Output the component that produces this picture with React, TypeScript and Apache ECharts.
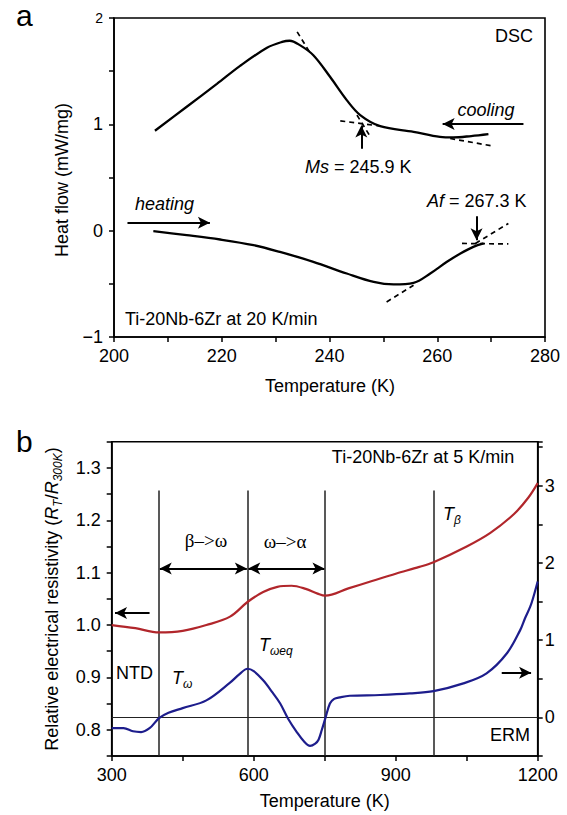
import React, { useEffect, useRef } from 'react';
import * as echarts from 'echarts';

// ---- Panel a: DSC ----
const coolingT = [207.6, 213.5, 219.1, 223.4, 228.4, 231.2, 232.6, 234.5, 237.0, 240.1, 243.2, 245.7, 249.4, 255.6, 260.5, 263.0, 266.3, 269.5];
const coolingHF = [0.94, 1.165, 1.38, 1.55, 1.72, 1.775, 1.786, 1.745, 1.65, 1.447, 1.228, 1.087, 0.983, 0.93, 0.882, 0.877, 0.89, 0.908];
const heatingT = [207.3, 213.5, 219.7, 225.9, 230.8, 237.0, 243.2, 248.2, 251.9, 255.6, 258.7, 261.8, 264.3, 266.7, 268.6];
const heatingHF = [-0.005, -0.042, -0.083, -0.136, -0.2, -0.293, -0.403, -0.482, -0.506, -0.491, -0.403, -0.293, -0.215, -0.152, -0.12];
const tangentsA = [
  [[234.0, 1.87], [236.3, 1.68]],
  [[242.0, 1.033], [250.0, 0.98]],
  [[245.1, 1.087], [247.6, 0.882]],
  [[262.4, 0.867], [270.4, 0.795]],
  [[264.6, -0.12], [273.2, -0.125]],
  [[267.1, -0.12], [273.2, 0.068]],
  [[250.6, -0.67], [255.6, -0.513]],
];
const msValue = 245.9;
const afValue = 267.3;

// ---- Panel b: resistivity ----
const resT = [300, 350, 400, 450, 500, 550, 587, 620, 650, 680, 710, 735, 751, 800, 850, 900, 950, 980, 1050, 1100, 1150, 1180, 1200];
const resLeft = [1.0, 0.994, 0.986, 0.989, 1.0, 1.016, 1.044, 1.063, 1.073, 1.075, 1.069, 1.06, 1.056, 1.07, 1.084, 1.098, 1.111, 1.12, 1.15, 1.176, 1.212, 1.243, 1.271];
const ermT = [300, 325, 345, 362, 380, 400, 420, 450, 500, 550, 570, 587, 600, 620, 640, 656, 673, 691, 706, 719, 730, 737, 744, 751, 761, 770, 782, 803, 867, 930, 980, 1043, 1092, 1135, 1163, 1173, 1184, 1190, 1200];
const ermVal = [-0.14, -0.14, -0.18, -0.19, -0.14, -0.01, 0.06, 0.12, 0.22, 0.45, 0.56, 0.63, 0.6, 0.48, 0.32, 0.18, -0.02, -0.19, -0.31, -0.37, -0.34, -0.29, -0.16, -0.02, 0.18, 0.24, 0.26, 0.28, 0.29, 0.31, 0.34, 0.44, 0.57, 0.83, 1.13, 1.28, 1.43, 1.54, 1.76];
const transitionT = [400, 587, 751, 980];
const transitionTop = 1.257;

const FONT = "'Liberation Sans', Arial, Helvetica, sans-serif";
const SERIF = "'Liberation Serif', 'Times New Roman', serif";
const FS = 18;

function zip(xs: number[], ys: number[]) {
  return xs.map((x, i) => [x, ys[i]]);
}

function arrowLine(p1: number[], p2: number[], both = false) {
  return [
    { coord: p1, symbol: both ? 'arrow' : 'none' },
    { coord: p2, symbol: 'arrow' },
  ];
}

function txt(x: number, y: number, text: string, extra: any = {}) {
  const { align = 'left', rich, rotation, fontSize = FS, fontStyle, fontFamily = FONT } = extra;
  return {
    type: 'text',
    x,
    y,
    rotation: rotation || 0,
    silent: true,
    style: {
      text,
      fill: '#000',
      fontSize,
      fontFamily,
      fontStyle: fontStyle || 'normal',
      align,
      textAlign: align,
      verticalAlign: 'middle',
      textVerticalAlign: 'middle',
      rich: rich || {},
    },
  };
}

const italicRich = {
  i: { fontStyle: 'italic', fontSize: FS, fontFamily: FONT, fill: '#000', color: '#000' },
};
const subRich = {
  T: { fontStyle: 'italic', fontSize: FS, fontFamily: FONT, color: '#000', lineHeight: 24, verticalAlign: 'middle' },
  s: { fontStyle: 'italic', fontSize: 12, fontFamily: FONT, color: '#000', lineHeight: 12, verticalAlign: 'bottom' },
  n: { fontSize: FS, fontFamily: FONT, color: '#000', lineHeight: 24, verticalAlign: 'middle' },
};

const axisCommon = {
  axisLine: { onZero: false, lineStyle: { color: '#000', width: 1.6 } },
  axisTick: { inside: false, length: 5, lineStyle: { color: '#000', width: 1.5 } },
  splitLine: { show: false },
};

export default function App() {
  const ref = useRef<HTMLDivElement>(null);
  useEffect(() => {
    document.body.style.margin = '0';
    const chart = echarts.init(ref.current!, null, { renderer: 'svg' });
    const option: any = {
      animation: false,
      backgroundColor: '#fff',
      textStyle: { fontFamily: FONT },
      grid: [
        { left: 114, top: 18, width: 431, height: 319, show: true, borderColor: '#000', borderWidth: 1.6, backgroundColor: 'transparent' },
        { left: 111.7, top: 441.7, width: 426, height: 314.3, show: true, borderColor: '#000', borderWidth: 1.6, backgroundColor: 'transparent' },
      ],
      xAxis: [
        {
          ...axisCommon,
          gridIndex: 0, type: 'value', min: 200, max: 280, interval: 10,
          axisLabel: { color: '#000', fontSize: FS, fontFamily: FONT, margin: 10, formatter: (v: number) => (v % 20 === 0 ? String(v) : '') },
        },
        {
          ...axisCommon,
          gridIndex: 1, type: 'value', min: 300, max: 1200, interval: 150,
          axisLabel: { color: '#000', fontSize: FS, fontFamily: FONT, margin: 10, formatter: (v: number) => (v % 300 === 0 ? String(v) : '') },
        },
      ],
      yAxis: [
        {
          ...axisCommon,
          gridIndex: 0, type: 'value', min: -1, max: 2, interval: 0.5,
          axisLabel: {
            color: '#000', fontSize: FS, fontFamily: FONT, margin: 11,
            formatter: (v: number) => {
              if (Math.abs(v - Math.round(v)) > 1e-6) return '';
              const r = Math.round(v);
              if (r === 2) return '{s|2}';
              return r < 0 ? '\u2212' + Math.abs(r) : String(r);
            },
            rich: { s: { fontSize: 14, fontFamily: FONT, color: '#000' } },
          },
        },
        {
          ...axisCommon,
          gridIndex: 1, type: 'value', min: 0.75, max: 1.35, interval: 0.05,
          axisLabel: {
            color: '#000', fontSize: FS, fontFamily: FONT, margin: 11,
            formatter: (v: number) => (Math.abs(v * 10 - Math.round(v * 10)) < 1e-6 ? v.toFixed(1) : ''),
          },
        },
        {
          ...axisCommon,
          gridIndex: 1, type: 'value', position: 'right', min: -0.5, max: 3.57, interval: 0.5,
          axisLabel: {
            color: '#000', fontSize: FS, fontFamily: FONT, margin: 7,
            formatter: (v: number) => (Math.abs(v - Math.round(v)) < 1e-6 && v >= 0 && v <= 3 ? String(Math.round(v)) : ''),
          },
        },
      ],
      series: [
        {
          type: 'line', xAxisIndex: 0, yAxisIndex: 0, data: zip(coolingT, coolingHF), smooth: 0.35,
          showSymbol: false, symbol: 'none', lineStyle: { color: '#000', width: 2.3 }, silent: true,
          markLine: {
            silent: true, symbolSize: [9, 12], label: { show: false },
            lineStyle: { color: '#000', width: 2, type: 'solid' },
            data: [
              arrowLine([276.0, 1.004], [261.0, 1.004]),
              arrowLine([202.5, 0.075], [217.8, 0.075]),
              arrowLine([msValue, 0.77], [msValue, 0.99]),
              arrowLine([afValue, 0.135], [afValue, -0.09]),
            ],
          },
        },
        {
          type: 'line', xAxisIndex: 0, yAxisIndex: 0, data: zip(heatingT, heatingHF), smooth: 0.35,
          showSymbol: false, symbol: 'none', lineStyle: { color: '#000', width: 2.3 }, silent: true,
        },
        ...tangentsA.map((seg) => ({
          type: 'line', xAxisIndex: 0, yAxisIndex: 0, data: seg, showSymbol: false, symbol: 'none', silent: true,
          lineStyle: { color: '#000', width: 1.7, type: [5, 4] },
        })),
        {
          type: 'line', xAxisIndex: 1, yAxisIndex: 1, data: zip(resT, resLeft), smooth: 0.35,
          showSymbol: false, symbol: 'none', lineStyle: { color: '#b1262b', width: 2.2 }, silent: true, z: 5,
          markLine: {
            silent: true, symbolSize: [9, 12], label: { show: false },
            lineStyle: { color: '#000', width: 2, type: 'solid' },
            data: [
              arrowLine([380, 1.023], [307, 1.023]),
              arrowLine([401.5, 1.108], [585.5, 1.108], true),
              arrowLine([588.5, 1.108], [749.5, 1.108], true),
              ...transitionT.map((t) => [
                { coord: [t, transitionTop], symbol: 'none', lineStyle: { color: '#222', width: 1.5 } },
                { coord: [t, 0.75], symbol: 'none' },
              ]),
            ],
          },
        },
        {
          type: 'line', xAxisIndex: 1, yAxisIndex: 2, data: zip(ermT, ermVal), smooth: 0.35,
          showSymbol: false, symbol: 'none', lineStyle: { color: '#1d1d8c', width: 2.2 }, silent: true, z: 5,
          markLine: {
            silent: true, symbolSize: [9, 12], label: { show: false },
            lineStyle: { color: '#000', width: 2, type: 'solid' },
            data: [
              [{ coord: [300, 0], symbol: 'none', lineStyle: { color: '#222', width: 1.2 } }, { coord: [1200, 0], symbol: 'none' }],
              arrowLine([1124, 0.578], [1186, 0.578]),
            ],
          },
        },
      ],
      graphic: [
        txt(16, 15, 'a', { fontSize: 30 }),
        txt(533, 36, 'DSC', { align: 'right' }),
        txt(486, 110, 'cooling', { align: 'center', fontStyle: 'italic' }),
        txt(305, 167, '{i|Ms} = 245.9 K', { rich: italicRich }),
        txt(427, 201, '{i|Af} = 267.3 K', { rich: italicRich }),
        txt(135, 204, 'heating', { fontStyle: 'italic' }),
        txt(125, 319, 'Ti-20Nb-6Zr at 20 K/min'),
        txt(62, 180, 'Heat flow (mW/mg)', { align: 'center', rotation: Math.PI / 2 }),
        txt(330, 386, 'Temperature (K)', { align: 'center' }),

        txt(16, 441.5, 'b', { fontSize: 30 }),
        txt(423, 457, 'Ti-20Nb-6Zr at 5 K/min', { align: 'center' }),
        txt(443, 514, '{T|T}{s|β}', { rich: subRich }),
        txt(206, 540, 'β–>ω', { align: 'center', fontFamily: SERIF, fontSize: 19 }),
        txt(285, 541, 'ω–>α', { align: 'center', fontFamily: SERIF, fontSize: 19 }),
        txt(116, 673, 'NTD'),
        txt(172, 678, '{T|T}{s|ω}', { rich: subRich }),
        txt(259, 645, '{T|T}{s|ωeq}', { rich: subRich }),
        txt(530, 735, 'ERM', { align: 'right' }),
        txt(52, 599, '{n|Relative electrical resistivity (}{T|R}{s|T}{n|/}{T|R}{s|300K}{n|)}', { align: 'center', rotation: Math.PI / 2, rich: subRich }),
        txt(324.7, 801, 'Temperature (K)', { align: 'center' }),
      ],
    };
    chart.setOption(option);
    return () => chart.dispose();
  }, []);
  return <div ref={ref} style={{ width: 567, height: 815 }} />;
}
